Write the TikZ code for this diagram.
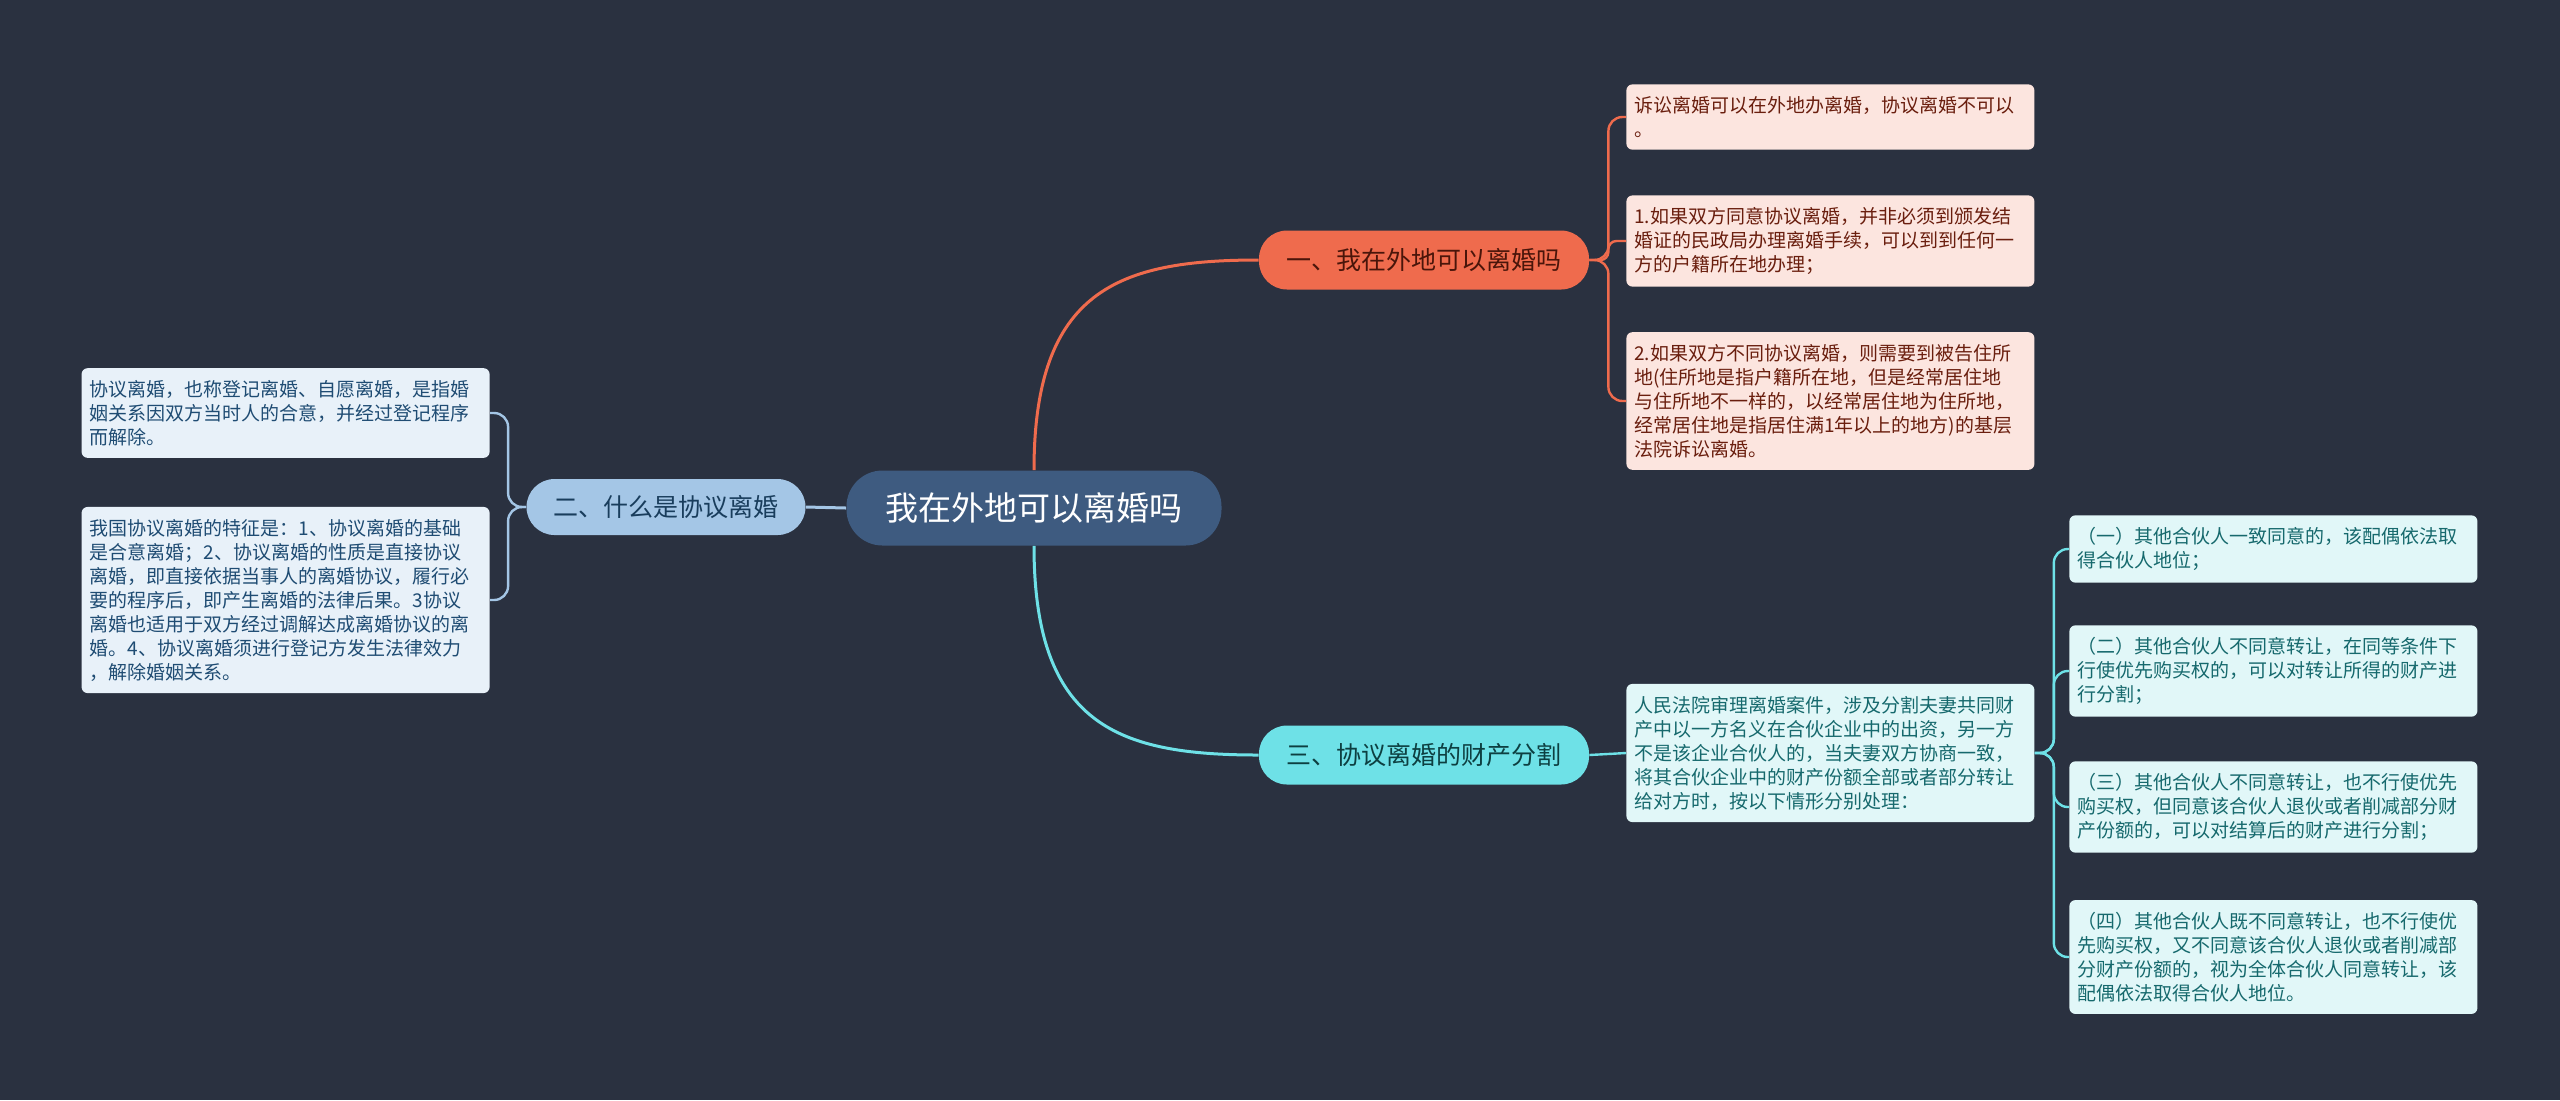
\documentclass[tikz,border=0pt]{standalone}
\usepackage{fontspec}
\setmainfont{Noto Sans CJK SC}
\usetikzlibrary{positioning}
\usepackage{xcolor}

\begin{document}
\begin{tikzpicture}[
    x=0.5pt, y=-0.5pt,
    topicbox/.style={
        rectangle,
        rounded corners=18pt,
        fill=rootcol,
        text=white,
        font=\fontsize{16.5}{19}\selectfont,
        minimum width=187.5pt,
        minimum height=37.5pt
    },
    branchbox/.style={
        rectangle,
        rounded corners=14pt,
        font=\fontsize{12.5}{15}\selectfont,
        minimum width=165pt,
        minimum height=29.5pt
    },
    leafbox/.style={
        rectangle,
        rounded corners=3pt,
        font=\fontsize{9.5}{12}\selectfont,
        align=left,
        text width=196pt,
        inner xsep=4pt,
        inner ysep=6pt
    },
    mainline/.style={line width=1.5pt},
    twigline/.style={line width=1.2pt, rounded corners=7pt}
]

\definecolor{bgcol}{HTML}{2A3140}
\definecolor{rootcol}{HTML}{3E5B80}
\definecolor{redcol}{HTML}{EF6B4D}
\definecolor{redleaf}{HTML}{FCE5DF}
\definecolor{redtext}{HTML}{6A1E0E}
\definecolor{bluecol}{HTML}{A4C6E6}
\definecolor{blueleaf}{HTML}{E8F1F9}
\definecolor{bluetext}{HTML}{1F4C73}
\definecolor{cyancol}{HTML}{6EE1E7}
\definecolor{cyanleaf}{HTML}{E1F7F8}
\definecolor{cyantext}{HTML}{16696D}

\fill[bgcol] (0,0) rectangle (2560,1100);
\useasboundingbox (0,0) rectangle (2560,1100);

% centre and main branches
\node[topicbox] (root) at (1034, 508) {我在外地可以离婚吗};

\node[branchbox, fill=redcol, text=redtext!70!black] (br1) at (1424, 260)
    {一、我在外地可以离婚吗};
\node[branchbox, fill=cyancol, text=cyantext!60!black] (br3) at (1424, 755)
    {三、协议离婚的财产分割};
\node[branchbox, fill=bluecol, text=bluetext!80!black,
      minimum width=139.5pt, minimum height=28pt] (br2) at (666, 507)
    {二、什么是协议离婚};

% leaves of branch one
\node[leafbox, fill=redleaf, text=redtext, anchor=west] (lfa) at (1626, 117)
    {诉讼离婚可以在外地办离婚，协议离婚不可以\\。};
\node[leafbox, fill=redleaf, text=redtext, anchor=west] (lfb) at (1626, 241)
    {1.如果双方同意协议离婚，并非必须到颁发结\\婚证的民政局办理离婚手续，可以到到任何一\\方的户籍所在地办理；};
\node[leafbox, fill=redleaf, text=redtext, anchor=west] (lfc) at (1626, 401)
    {2.如果双方不同协议离婚，则需要到被告住所\\地(住所地是指户籍所在地，但是经常居住地\\与住所地不一样的，以经常居住地为住所地，\\经常居住地是指居住满1年以上的地方)的基层\\法院诉讼离婚。};

% leaves of branch two
\node[leafbox, fill=blueleaf, text=bluetext, anchor=east] (lfl1) at (490, 413)
    {协议离婚，也称登记离婚、自愿离婚，是指婚\\姻关系因双方当时人的合意，并经过登记程序\\而解除。};
\node[leafbox, fill=blueleaf, text=bluetext, anchor=east] (lfl2) at (490, 600)
    {我国协议离婚的特征是：1、协议离婚的基础\\是合意离婚；2、协议离婚的性质是直接协议\\离婚，即直接依据当事人的离婚协议，履行必\\要的程序后，即产生离婚的法律后果。3协议\\离婚也适用于双方经过调解达成离婚协议的离\\婚。4、协议离婚须进行登记方发生法律效力\\，解除婚姻关系。};

% leaves of branch three
\node[leafbox, fill=cyanleaf, text=cyantext, anchor=west] (lfr) at (1626, 753)
    {人民法院审理离婚案件，涉及分割夫妻共同财\\产中以一方名义在合伙企业中的出资，另一方\\不是该企业合伙人的，当夫妻双方协商一致，\\将其合伙企业中的财产份额全部或者部分转让\\给对方时，按以下情形分别处理：};

\node[leafbox, fill=cyanleaf, text=cyantext, anchor=west] (sub1) at (2069, 549)
    {（一）其他合伙人一致同意的，该配偶依法取\\得合伙人地位；};
\node[leafbox, fill=cyanleaf, text=cyantext, anchor=west] (sub2) at (2069, 671)
    {（二）其他合伙人不同意转让，在同等条件下\\行使优先购买权的，可以对转让所得的财产进\\行分割；};
\node[leafbox, fill=cyanleaf, text=cyantext, anchor=west] (sub3) at (2069, 807)
    {（三）其他合伙人不同意转让，也不行使优先\\购买权，但同意该合伙人退伙或者削减部分财\\产份额的，可以对结算后的财产进行分割；};
\node[leafbox, fill=cyanleaf, text=cyantext, anchor=west] (sub4) at (2069, 957)
    {（四）其他合伙人既不同意转让，也不行使优\\先购买权，又不同意该合伙人退伙或者削减部\\分财产份额的，视为全体合伙人同意转让，该\\配偶依法取得合伙人地位。};

% connectors from the centre
\draw[mainline, redcol] (root.north) .. controls +(0,-180) and +(-140,0) .. (br1.west);
\draw[mainline, cyancol] (root.south) .. controls +(0,180) and +(-140,0) .. (br3.west);
\draw[mainline, bluecol] (root.west) -- (br2.east);

% twigs
\draw[twigline, redcol] (br1.east) -- ++(19,0) |- (lfa.west);
\draw[twigline, redcol, rounded corners=4pt] (br1.east) -- ++(19,0) |- (lfb.west);
\draw[twigline, redcol] (br1.east) -- ++(19,0) |- (lfc.west);

\draw[twigline, bluecol] (br2.west) -- ++(-18,0) |- (lfl1.east);
\draw[twigline, bluecol] (br2.west) -- ++(-18,0) |- (lfl2.east);

\draw[twigline, cyancol] (br3.east) -- (lfr.west);

\draw[twigline, cyancol] (lfr.east) -- ++(19,0) |- (sub1.west);
\draw[twigline, cyancol] (lfr.east) -- ++(19,0) |- (sub2.west);
\draw[twigline, cyancol] (lfr.east) -- ++(19,0) |- (sub3.west);
\draw[twigline, cyancol] (lfr.east) -- ++(19,0) |- (sub4.west);

\end{tikzpicture}
\end{document}
